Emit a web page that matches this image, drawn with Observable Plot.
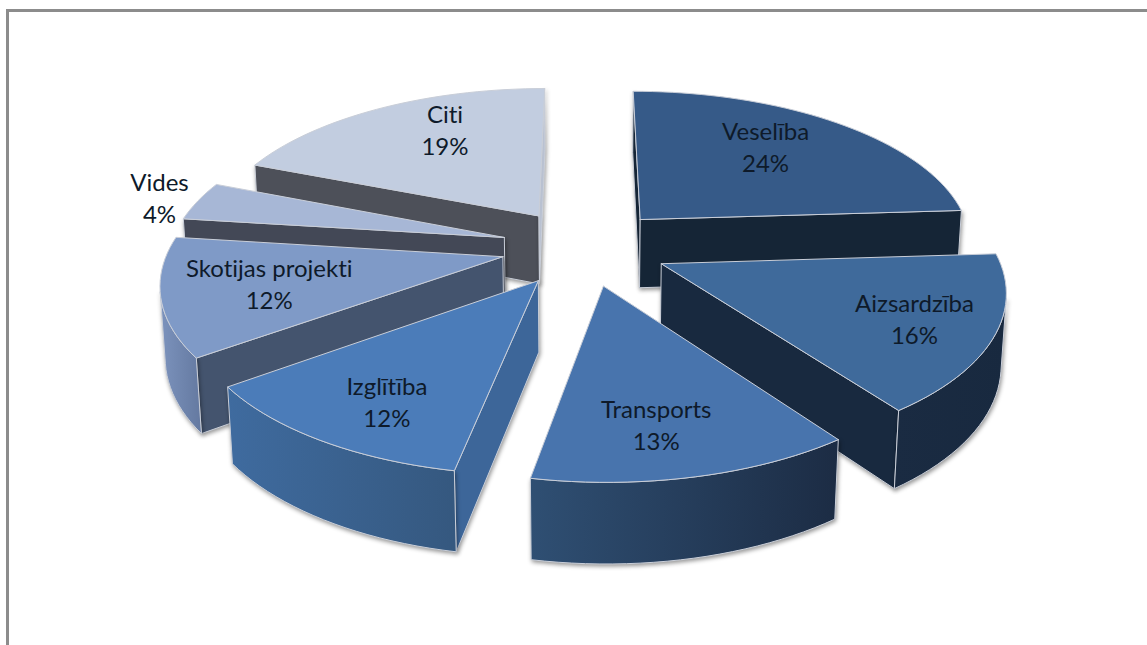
<!DOCTYPE html>
<html lang="lv">
<head>
<meta charset="utf-8">
<title>Izdevumu sadalījums</title>
<script src="https://cdn.jsdelivr.net/npm/d3@7"></script>
<script src="https://cdn.jsdelivr.net/npm/@observablehq/plot@0.6"></script>
<style>
  html, body { margin: 0; padding: 0; background: #fff; overflow: hidden; }
  #page { position: relative; width: 1147px; height: 645px; }
  #frame { position: absolute; left: 6px; top: 9px; right: 0; bottom: 0;
           border-top: 3px solid #8c8c8c; border-left: 3px solid #8c8c8c; }
  #page svg { position: absolute; left: 0; top: 0; background: transparent; }
  #page svg text { font-variant-ligatures: none; }
</style>
</head>
<body>
<div id="page"><div id="frame"></div></div>
<script>
// Slices, clockwise from twelve o'clock
const names = ["Veselība", "Aizsardzība", "Transports", "Izglītība", "Skotijas projekti", "Vides", "Citi"];
const shares = [24, 16, 13, 12, 12, 4, 19];

// Colours per slice: top face, straight walls, curved wall (left and right end of its shading)
const topColors = ["#365a88", "#3f6a9b", "#4874ad", "#4b7cb9", "#7f9ac7", "#a7b7d6", "#c2cde0"];
const sideColors = ["#152536", "#18293f", "#1f3148", "#3d6699", "#44546e", "#434856", "#4d5059"];
const curveFrom = ["#152536", "#1a2b42", "#2f4f73", "#3f6b9f", "#7c93bd", "#505666", "#5a5e68"];
const curveTo = ["#152536", "#18293f", "#1c2c44", "#35587f", "#6479a0", "#434856", "#4d5059"];
const sliverColor = "#b9c1d1";

// Where each label sits inside its slice: fraction of the radius, turn from the mid-angle in degrees
const labelRadius = [0.69, 0.77, 0.745, 0.76, 0.69, 1.13, 0.735];
const labelTurn = [-4.8, -0.5, 2.6, -2.2, 0.8, 0, 7.5];

// Back-to-front painting order
const paintOrder = [0, 6, 5, 4, 1, 3, 2];

// Pie geometry in units of the pie radius
const W = 1147, H = 645;
const centre = [584, 246.5], radiusX = 334, radiusY = 154.6;
const explode = 0.25, depth = 70.5 / radiusY;
const perspective = 0.147, depthPerspective = 0.012;

const rad = (d) => (d * Math.PI) / 180;
const total = d3.sum(shares);
const cumulative = d3.cumsum(shares);
const slices = shares.map((v, i) => {
  const a1 = (cumulative[i] / total) * 360;
  const a0 = a1 - (v / total) * 360;
  const mid = (a0 + a1) / 2;
  return {i, a0, a1, mid, ox: explode * Math.sin(rad(mid)), oy: explode * Math.cos(rad(mid))};
});

// Tilted view of a point on the pie plane, lowered by z for the underside
const view = (X, Y, z = 0) => {
  const w = 1 + perspective * Y + depthPerspective * z;
  return {x: X / w, y: (Y - depth * z) / w};
};
const rim = (s, a, r = 1) => [s.ox + r * Math.sin(rad(a)), s.oy + r * Math.cos(rad(a))];
const arcAngles = (s) => {
  const n = Math.max(2, Math.ceil((s.a1 - s.a0) / 2));
  return d3.range(n + 1).map((k) => s.a0 + ((s.a1 - s.a0) * k) / n);
};
const screenArea = (p) =>
  d3.sum(p, (a, k) => {
    const b = p[(k + 1) % p.length];
    return a.x * radiusX * (-b.y * radiusY) - b.x * radiusX * (-a.y * radiusY);
  });
const closed = (p) => [...p, p[0]];
// Faces hanging below the top are kept only when they turn towards the viewer
const facing = (a, b) => screenArea([view(...a), view(...b), view(...b, 1), view(...a, 1)]) < 0;
const wall = (a, b) => closed([view(...a), view(...b), view(...b, 1), view(...a, 1)]);

const shadow = "drop-shadow(1px 2px 2px rgba(0,0,0,0.42))";
const edge = {stroke: "#c9ced8", strokeWidth: 1, curve: "linear"};
const faceMark = (points, fill, withShadow) =>
  Plot.line(points, {x: "x", y: "y", fill, ...edge, ...(withShadow ? {imageFilter: shadow} : {})});

function sliceMarks(s) {
  const angles = arcAngles(s);
  const apex = [s.ox, s.oy];
  const marks = [];
  const sliver = s.i === names.length - 1;

  // Straight wall on the start edge, then on the end edge
  const startEdge = rim(s, s.a0), endEdge = rim(s, s.a1);
  if (facing(apex, startEdge)) marks.push(faceMark(wall(apex, startEdge), sideColors[s.i], true));
  if (facing(endEdge, apex)) marks.push(faceMark(wall(endEdge, apex), sliver ? sliverColor : sideColors[s.i], true));

  // Curved wall, limited to the stretch of arc the viewer can see
  const seen = angles.filter((a, k) => {
    const next = angles[k + 1] ?? a;
    const prev = angles[k - 1] ?? a;
    return (k < angles.length - 1 && facing(rim(s, a), rim(s, next))) ||
           (k > 0 && facing(rim(s, prev), rim(s, a)));
  });
  if (seen.length > 1) {
    const upper = seen.map((a) => view(...rim(s, a)));
    const lower = seen.map((a) => view(...rim(s, a), 1)).reverse();
    marks.push(faceMark(closed([...upper, ...lower]), `url(#curve-${s.i})`, true));
  }

  // Top face
  const top = closed([view(...apex), ...angles.map((a) => view(...rim(s, a)))]);
  marks.push(faceMark(top, topColors[s.i], false));
  return marks;
}

// Shading for the curved walls
const gradients = () => {
  const ns = "http://www.w3.org/2000/svg";
  const defs = document.createElementNS(ns, "defs");
  names.forEach((_, i) => {
    const g = document.createElementNS(ns, "linearGradient");
    g.setAttribute("id", `curve-${i}`);
    [[0, curveFrom[i]], [1, curveTo[i]]].forEach(([o, c]) => {
      const stop = document.createElementNS(ns, "stop");
      stop.setAttribute("offset", o);
      stop.setAttribute("stop-color", c);
      g.appendChild(stop);
    });
    defs.appendChild(g);
  });
  return defs;
};

// Labels: name over percentage
const labels = slices.map((s) => {
  const p = view(...rim(s, s.mid + labelTurn[s.i], labelRadius[s.i]));
  return {x: p.x, y: p.y, text: `${names[s.i]}\n${shares[s.i]}%`};
});

const chart = Plot.plot({
  width: W,
  height: H,
  margin: 0,
  style: {background: "transparent"},
  x: {axis: null, domain: [-centre[0] / radiusX, (W - centre[0]) / radiusX], range: [0, W]},
  y: {axis: null, domain: [centre[1] / radiusY, (centre[1] - H) / radiusY], range: [0, H]},
  marks: [
    gradients,
    ...paintOrder.flatMap((i) => sliceMarks(slices[i])),
    Plot.text(labels, {
      x: "x",
      y: "y",
      text: "text",
      fontFamily: "Lato, 'Open Sans', sans-serif",
      fontSize: 24,
      lineHeight: 1.33,
      fill: "#0e1a2a"
    })
  ]
});
document.getElementById("page").appendChild(chart);
</script>
</body>
</html>
